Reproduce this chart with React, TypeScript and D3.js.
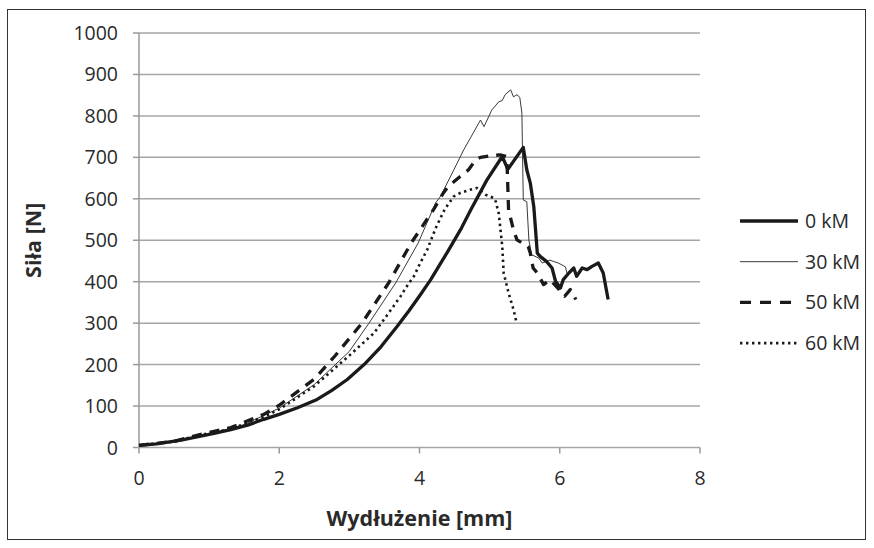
import React, { useEffect } from 'react';
import * as d3 from 'd3';

// values: [elongation mm, force N]
const s0kM = [[0,5],[0.25,9],[0.6,18],[1.07,34],[1.31,43],[1.55,54],[1.78,68],[2.0,80],[2.26,96],[2.54,116],[2.75,138],[2.97,164],[3.21,200],[3.45,243],[3.68,292],[3.85,330],[4.01,368],[4.16,405],[4.4,472],[4.6,530],[4.73,573],[4.96,645],[5.18,702],[5.26,671],[5.48,724],[5.53,670],[5.58,638],[5.63,581],[5.68,469],[5.72,461],[5.81,449],[5.89,433],[5.94,401],[6.01,385],[6.05,405],[6.13,421],[6.2,433],[6.24,413],[6.32,433],[6.39,429],[6.46,437],[6.55,445],[6.62,421],[6.69,357]];
const s30kM = [[0,5],[0.5,14],[1,32],[1.5,55],[2,95],[2.5,152],[3,232],[3.28,300],[3.66,397],[3.98,493],[4.23,590],[4.3,606],[4.49,670],[4.63,718],[4.87,790],[4.92,774],[5.03,814],[5.13,834],[5.18,837],[5.22,851],[5.3,863],[5.34,846],[5.39,851],[5.43,845],[5.46,807],[5.48,597],[5.53,593],[5.56,500],[5.6,465],[5.7,457],[5.75,445],[5.86,452],[5.98,445],[6.08,436],[6.11,416]];
const s50kM = [[0,5],[0.5,15],[0.84,30],[1.31,48],[1.78,80],[2,102],[2.5,165],[2.8,222],[3.18,300],[3.56,397],[3.88,493],[4.2,574],[4.34,614],[4.41,630],[4.58,654],[4.7,670],[4.8,694],[4.87,700],[5.03,704],[5.15,706],[5.24,702],[5.25,678],[5.27,573],[5.34,525],[5.39,501],[5.55,485],[5.58,469],[5.62,433],[5.68,421],[5.77,393],[5.86,405],[5.97,385],[6.07,365],[6.15,381],[6.23,357]];
const s60kM = [[0,5],[0.5,14],[0.84,29],[1.31,45],[1.78,74],[2,92],[2.5,148],[3,222],[3.35,276],[3.49,308],[3.63,341],[3.73,365],[3.82,389],[3.92,413],[4.01,445],[4.11,477],[4.23,529],[4.36,575],[4.49,606],[4.58,614],[4.72,622],[4.82,626],[4.94,610],[5.06,602],[5.08,598],[5.13,565],[5.15,533],[5.18,485],[5.2,421],[5.27,373],[5.34,333],[5.38,304]];

const seriesNames = ['0 kM', '30 kM', '50 kM', '60 kM'];
const xTicks = [0, 2, 4, 6, 8];
const yTicks = [0, 100, 200, 300, 400, 500, 600, 700, 800, 900, 1000];

const FONT = '"Open Sans", "Noto Sans", sans-serif';

export default function App() {
  useEffect(() => {
    document.body.style.margin = '0';
  }, []);

  const width = 874;
  const height = 548;
  const left = 139, right = 700, top = 33, bottom = 447.5;

  const x = d3.scaleLinear().domain([0, 8]).range([left, right]);
  const y = d3.scaleLinear().domain([0, 1000]).range([bottom, top]);

  const line = d3.line<number[]>()
    .x(d => x(d[0]))
    .y(d => y(d[1]));

  const styles = [
    { stroke: '#1a1a1a', width: 3.3, dash: undefined as string | undefined },
    { stroke: '#3a3a3a', width: 1, dash: undefined },
    { stroke: '#1a1a1a', width: 3.3, dash: '10 8' },
    { stroke: '#1a1a1a', width: 2.6, dash: '2.4 3.6' },
  ];
  const allSeries = [s0kM, s30kM, s50kM, s60kM];
  const drawOrder = [1, 3, 2, 0];

  return (
    <svg width={width} height={height} style={{ display: 'block' }}>
      <rect x={0} y={0} width={width} height={height} fill="#fff" />
      <rect x={7.5} y={9.5} width={858} height={530} fill="none" stroke="#333" strokeWidth={1} />

      {yTicks.map(t => (
        <g key={'y' + t}>
          <line x1={left} x2={right} y1={y(t)} y2={y(t)} stroke="#a6a6a6" strokeWidth={1.5} />
          <line x1={left - 6} x2={left} y1={y(t)} y2={y(t)} stroke="#9a9a9a" strokeWidth={1.5} />
          <text x={118} y={y(t)} dy="0.36em" textAnchor="end" fontFamily={FONT} fontSize={19.5} fill="#2a2a2a">{t}</text>
        </g>
      ))}
      <line x1={left} x2={left} y1={top} y2={bottom} stroke="#9a9a9a" strokeWidth={1.5} />

      {xTicks.map(t => (
        <g key={'x' + t}>
          <line x1={x(t)} x2={x(t)} y1={bottom} y2={bottom + 6} stroke="#9a9a9a" strokeWidth={1.5} />
          <text x={x(t)} y={485} textAnchor="middle" fontFamily={FONT} fontSize={19.5} fill="#2a2a2a">{t}</text>
        </g>
      ))}

      <text x={(left + right) / 2} y={526} textAnchor="middle" fontFamily={FONT} fontSize={21.5} fontWeight="bold" fill="#2a2a2a">Wydłużenie [mm]</text>
      <text transform={`translate(41,${(top + bottom) / 2}) rotate(-90)`} textAnchor="middle" fontFamily={FONT} fontSize={21.5} fontWeight="bold" fill="#2a2a2a">Siła [N]</text>

      {drawOrder.map(i => (
        <path key={'s' + i} d={line(allSeries[i] as number[][]) || ''} fill="none"
          stroke={styles[i].stroke} strokeWidth={styles[i].width} strokeDasharray={styles[i].dash}
          strokeLinejoin="round" />
      ))}

      {seriesNames.map((name, i) => {
        const ly = 221 + i * 40.7;
        return (
          <g key={name}>
            <line x1={740} x2={798} y1={ly} y2={ly} stroke={styles[i].stroke} strokeWidth={styles[i].width}
              strokeDasharray={i === 2 ? '11 9' : styles[i].dash} />
            <text x={805} y={ly} dy="0.36em" fontFamily={FONT} fontSize={19.5} fill="#2a2a2a">{name}</text>
          </g>
        );
      })}
    </svg>
  );
}
